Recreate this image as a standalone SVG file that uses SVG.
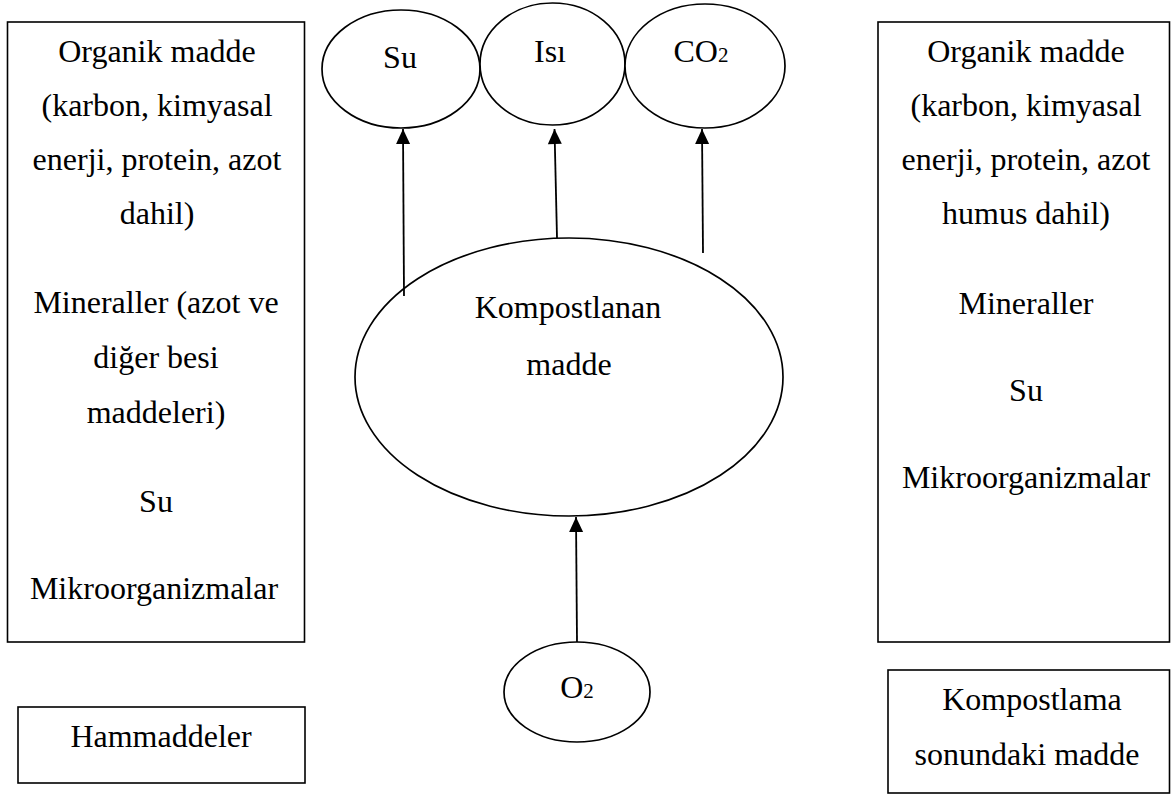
<svg xmlns="http://www.w3.org/2000/svg" width="1171" height="796" viewBox="0 0 1171 796">
  <style>
    .box { fill: #ffffff; stroke: #000000; stroke-width: 1.6; }
    .oval { fill: #ffffff; stroke: #000000; stroke-width: 1.7; }
    .lbl { font-family: "Liberation Serif", "Times New Roman", serif; font-size: 32px; fill: #000000; text-anchor: middle; }
    .sub { font-size: 21px; }
    .flow { stroke: #000000; stroke-width: 1.8; fill: none; marker-end: url(#arrowhead); }
  </style>
  <defs>
    <marker id="arrowhead" markerUnits="userSpaceOnUse" markerWidth="18" markerHeight="18" viewBox="0 0 18 18" refX="16" refY="9" orient="auto">
      <path d="M1,2 L16,9 L1,16 Z" fill="#000000"/>
    </marker>
  </defs>
  <rect width="1171" height="796" fill="#ffffff"/>

  <!-- raw materials -->
  <g id="raw-materials">
    <rect class="box" x="7.5" y="22" width="297" height="620"/>
    <text class="lbl" x="157" y="62">Organik madde</text>
    <text class="lbl" x="157" y="116">(karbon, kimyasal</text>
    <text class="lbl" x="157" y="170">enerji, protein, azot</text>
    <text class="lbl" x="157" y="224">dahil)</text>
    <text class="lbl" x="156" y="313">Mineraller (azot ve</text>
    <text class="lbl" x="156" y="368">diğer besi</text>
    <text class="lbl" x="156" y="423">maddeleri)</text>
    <text class="lbl" x="156" y="512">Su</text>
    <text class="lbl" x="154" y="599">Mikroorganizmalar</text>
  </g>

  <g id="raw-materials-title">
    <rect class="box" x="18" y="707" width="287" height="76"/>
    <text class="lbl" x="161" y="747">Hammaddeler</text>
  </g>

  <!-- finished compost -->
  <g id="end-product">
    <rect class="box" x="878" y="22" width="291.5" height="620"/>
    <text class="lbl" x="1026" y="62">Organik madde</text>
    <text class="lbl" x="1026" y="116">(karbon, kimyasal</text>
    <text class="lbl" x="1026" y="170">enerji, protein, azot</text>
    <text class="lbl" x="1026" y="224">humus dahil)</text>
    <text class="lbl" x="1026" y="314">Mineraller</text>
    <text class="lbl" x="1026" y="401">Su</text>
    <text class="lbl" x="1026" y="488">Mikroorganizmalar</text>
  </g>

  <g id="end-product-title">
    <rect class="box" x="888" y="670" width="281.5" height="123"/>
    <text class="lbl" x="1032" y="710">Kompostlama</text>
    <text class="lbl" x="1027" y="765">sonundaki madde</text>
  </g>

  <!-- outputs -->
  <g id="water">
    <ellipse class="oval" cx="401" cy="69" rx="79" ry="59"/>
    <text class="lbl" x="400" y="68">Su</text>
  </g>
  <g id="heat">
    <ellipse class="oval" cx="552.5" cy="64" rx="72.5" ry="61"/>
    <text class="lbl" x="550" y="62">Isı</text>
  </g>
  <g id="carbon-dioxide">
    <ellipse class="oval" cx="705" cy="66" rx="80" ry="62"/>
    <text class="lbl" x="701" y="62">CO<tspan class="sub">2</tspan></text>
  </g>

  <!-- composting mass -->
  <g id="compost-mass">
    <ellipse class="oval" cx="569" cy="377" rx="214" ry="139"/>
    <text class="lbl" x="568" y="318">Kompostlanan</text>
    <text class="lbl" x="569" y="375">madde</text>
  </g>

  <!-- oxygen input -->
  <g id="oxygen">
    <ellipse class="oval" cx="577" cy="692" rx="73" ry="50"/>
    <text class="lbl" x="577" y="698">O<tspan class="sub">2</tspan></text>
  </g>

  <g id="connectors">
    <line class="flow" x1="404" y1="296" x2="403" y2="129"/>
    <line class="flow" x1="557" y1="238" x2="554.5" y2="129"/>
    <line class="flow" x1="703" y1="253" x2="702" y2="129"/>
    <line class="flow" x1="577" y1="642" x2="576" y2="517"/>
  </g>
</svg>
